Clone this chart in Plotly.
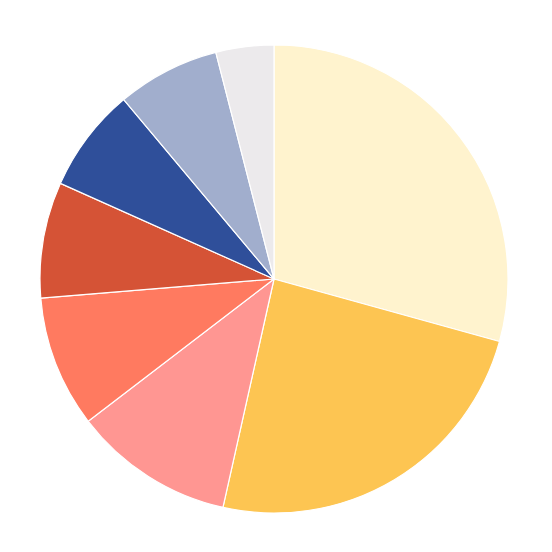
import plotly.graph_objects as go

labels = ['A', 'B', 'C', 'D', 'E', 'F', 'G', 'H']
values = [29.3, 24.2, 11.1, 9.1, 8.0, 7.2, 7.1, 4.0]
slice_colors = ['#FFF3CE', '#FDC552', '#FF9692', '#FF7A60', '#D55336',
                '#2F4F9A', '#A1AECD', '#ECEAEC']

fig = go.Figure(go.Pie(
    labels=labels,
    values=values,
    sort=False,
    direction='clockwise',
    rotation=0,
    textinfo='none',
    hoverinfo='label+percent',
    marker=dict(colors=slice_colors, line=dict(color='white', width=1.2)),
))

fig.update_layout(
    width=552,
    height=552,
    showlegend=False,
    paper_bgcolor='white',
    margin=dict(l=32, r=52, t=37, b=47),
)

fig.write_html("out.html")
